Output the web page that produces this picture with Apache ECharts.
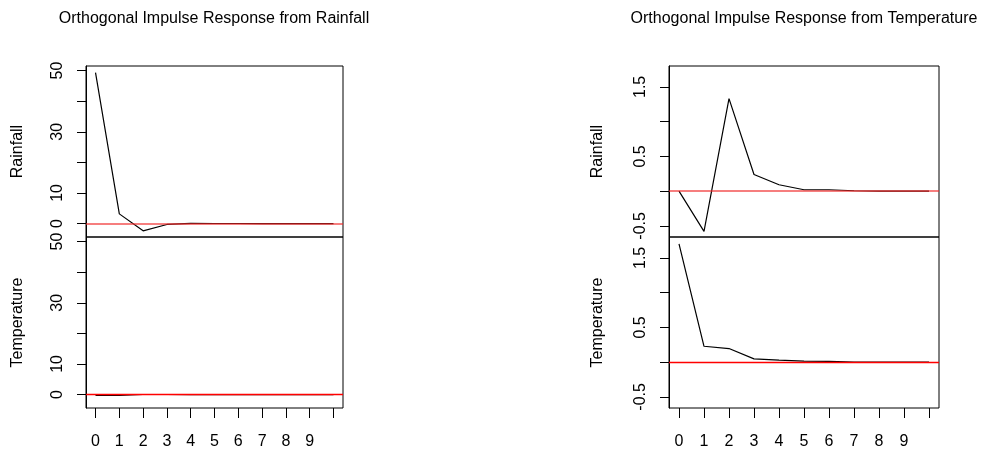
<!DOCTYPE html>
<html>
<head>
<meta charset="utf-8">
<script src="https://cdn.jsdelivr.net/npm/echarts@6/dist/echarts.min.js"></script>
<style>
  html, body { margin: 0; padding: 0; background: #fff; }
  #chart { width: 988px; height: 450px; }
</style>
</head>
<body>
<div id="chart"></div>
<script>
// horizons 0..10
const steps = [0, 1, 2, 3, 4, 5, 6, 7, 8, 9, 10]
const stepTicks = [0, 1, 2, 3, 4, 5, 6, 7, 8, 9, 10]
const stepLabels = [0, 1, 2, 3, 4, 5, 6, 7, 8, 9]

// impulse from Rainfall
const rainOnRain = [49.35, 3.16, -2.38, -0.3, 0.05, 0.02, 0.01, 0, 0, 0, 0]
const rainOnTemp = [-0.3, -0.3, 0.02, 0.01, 0, 0, 0, 0, 0, 0, 0]
// impulse from Temperature
const tempOnRain = [0, -0.58, 1.33, 0.24, 0.092, 0.02, 0.02, 0.005, 0, 0, 0]
const tempOnTemp = [1.70, 0.228, 0.195, 0.047, 0.028, 0.014, 0.01, 0, 0, 0, 0]

const leftTicks = [0, 10, 20, 30, 40, 50]
const leftLabels = [0, 10, 30, 50]
const rightTicks = [-0.5, 0, 0.5, 1, 1.5]
const rightLabels = [-0.5, 0.5, 1.5]

const font = 'Liberation Sans, Arial, sans-serif'

function pairs(vals) { return steps.map((s, i) => [s, vals[i]]) }

function xAxis(grid, show) {
  return {
    type: 'value', gridIndex: grid, min: -0.4, max: 10.4, show: show,
    axisLine: { show: false, onZero: false },
    axisTick: { show: true, inside: false, length: 10, lineStyle: { color: '#000' }, customValues: stepTicks },
    axisLabel: { show: true, margin: 26, fontSize: 16, fontFamily: font, color: '#000', customValues: stepLabels },
    splitLine: { show: false }
  }
}
function yAxis(grid, name, min, max, ticks, labels, gap, fmt) {
  return {
    type: 'value', gridIndex: grid, min: min, max: max,
    name: name, nameLocation: 'middle', nameRotate: 90, nameGap: gap,
    nameTextStyle: { fontSize: 16, fontFamily: font, color: '#000' },
    axisLine: { show: true, onZero: false, lineStyle: { color: '#000' } },
    axisTick: { show: true, inside: false, length: 9, lineStyle: { color: '#000' }, customValues: ticks },
    axisLabel: { rotate: 90, margin: 20, fontSize: 16, fontFamily: font, color: '#000', customValues: labels, formatter: fmt },
    splitLine: { show: false }
  }
}
function series(idx, vals, zeroStyle) {
  return {
    type: 'line', xAxisIndex: idx, yAxisIndex: idx, data: pairs(vals),
    showSymbol: false, symbol: 'none', silent: true, z: 2,
    lineStyle: { color: '#000', width: 1.2 },
    markLine: {
      silent: true, symbol: 'none', label: { show: false }, z: 10,
      lineStyle: zeroStyle,
      emphasis: { disabled: true },
      data: [{ yAxis: 0 }]
    }
  }
}

const topZero = { color: 'rgba(240,40,40,0.6)', width: 2, type: 'solid' }
const botZero = { color: '#ff0000', width: 1.3, type: 'solid', opacity: 1 }
const fmtR = v => v === 0 ? '0' : String(v)

const grids = [
  { left: 86, top: 66, width: 257, height: 171 },
  { left: 86, top: 237, width: 257, height: 172 },
  { left: 669, top: 66, width: 270, height: 171 },
  { left: 669, top: 237, width: 270, height: 172 }
].map(g => Object.assign({ show: true, borderColor: '#000', borderWidth: 1, backgroundColor: 'transparent' }, g))

const chart = echarts.init(document.getElementById('chart'), null, { renderer: 'canvas' })
chart.setOption({
  animation: false,
  backgroundColor: '#fff',
  title: [
    { text: 'Orthogonal Impulse Response from Rainfall', left: 214, top: 11, padding: 0, textAlign: 'center',
      textStyle: { fontSize: 16, fontWeight: 'normal', fontFamily: font, color: '#000' } },
    { text: 'Orthogonal Impulse Response from Temperature', left: 804, top: 11, padding: 0, textAlign: 'center',
      textStyle: { fontSize: 16, fontWeight: 'normal', fontFamily: font, color: '#000' } }
  ],
  grid: grids,
  xAxis: [xAxis(0, false), xAxis(1, true), xAxis(2, false), xAxis(3, true)],
  yAxis: [
    yAxis(0, 'Rainfall', -4.4, 51.5, leftTicks, leftLabels, 60),
    yAxis(1, 'Temperature', -4.4, 51.5, leftTicks, leftLabels, 60),
    yAxis(2, 'Rainfall', -0.66, 1.8, rightTicks, rightLabels, 63, fmtR),
    yAxis(3, 'Temperature', -0.66, 1.8, rightTicks, rightLabels, 63, fmtR)
  ],
  series: [
    series(0, rainOnRain, topZero),
    series(1, rainOnTemp, botZero),
    series(2, tempOnRain, topZero),
    series(3, tempOnTemp, botZero)
  ]
})
window.addEventListener('resize', () => chart.resize())
</script>
</body>
</html>
